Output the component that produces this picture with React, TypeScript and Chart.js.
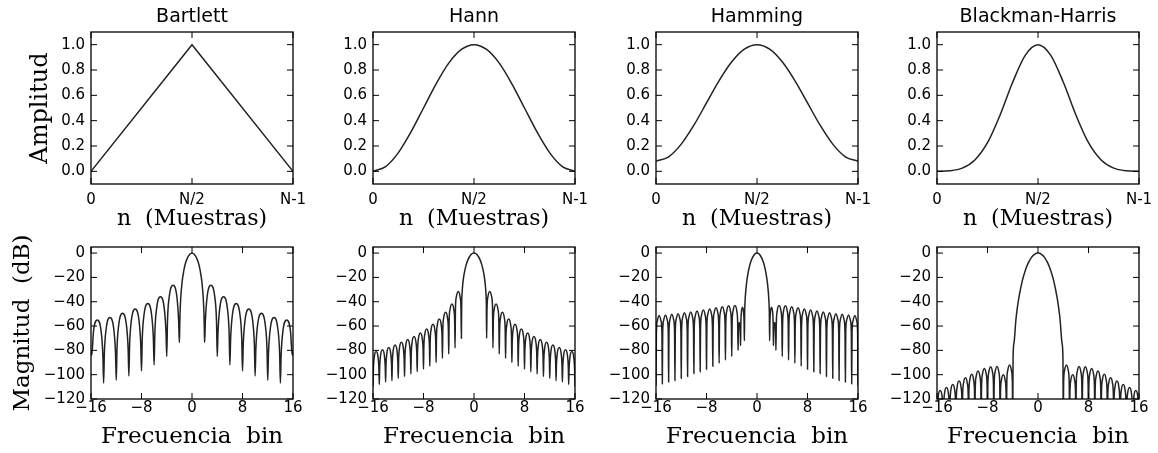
import React, { useEffect, useRef } from 'react';
import { Chart, registerables } from 'chart.js';

Chart.register(...registerables);

// ---------------- data ----------------
const WINDOW_TITLES = ['Bartlett', 'Hann', 'Hamming', 'Blackman-Harris'];

// top row: window shapes, sample index 0 … N-1 (N = 65)
const BARTLETT_N = [0, 32, 64];
const BARTLETT_AMP = [0, 1, 0];
const WINDOW_N = [0, 4, 8, 12, 16, 20, 24, 28, 32, 36, 40, 44, 48, 52, 56, 60, 64];
const HANN_AMP = [0, 0.038, 0.146, 0.309, 0.5, 0.691, 0.854, 0.962, 1, 0.962, 0.854, 0.691, 0.5, 0.309, 0.146, 0.038, 0];
const HAMMING_AMP = [0.08, 0.115, 0.215, 0.364, 0.54, 0.716, 0.865, 0.965, 1, 0.965, 0.865, 0.716, 0.54, 0.364, 0.215, 0.115, 0.08];
const BLACKMAN_HARRIS_AMP = [0, 0.004, 0.025, 0.09, 0.226, 0.445, 0.705, 0.918, 1, 0.918, 0.705, 0.445, 0.226, 0.09, 0.025, 0.004, 0];

const TOP_X_TICKS = [0, 32, 64];
const TOP_X_TICK_LABELS = ['0', 'N/2', 'N-1'];
const TOP_Y_TICKS = [0, 0.2, 0.4, 0.6, 0.8, 1.0];
const BOTTOM_X_TICKS = [-16, -8, 0, 8, 16];
const BOTTOM_Y_TICKS = [-120, -100, -80, -60, -40, -20, 0];

// bottom row: spectra in dB (left half, the right half is its mirror image)
// side-lobe nulls (bin), depth at each null (dB), peak of the lobe that starts at that null (dB)
const BARTLETT_NULL_BINS = [-16, -14, -12, -10, -8, -6, -4];
const BARTLETT_NULL_DB = [-80, -107, -104.5, -101, -97, -92, -85];
const BARTLETT_LOBE_DB = [-55, -53, -49.5, -46, -41.5, -36, -26.5];
const BARTLETT_MAIN_BINS = [-2, -1.95, -1.9, -1.8, -1.6, -1.3, -1, -0.6, 0];
const BARTLETT_MAIN_DB = [-73.5, -62, -51, -38.4, -25.2, -14.4, -7.8, -2.7, 0];

const HANN_NULL_BINS = [-16, -15, -14, -13, -12, -11, -10, -9, -8, -7, -6, -5, -4, -3];
const HANN_NULL_DB = [-110, -108, -106, -105, -103, -101.5, -99.5, -97.5, -95.5, -93, -90, -86.5, -83, -78];
const HANN_LOBE_DB = [-81, -79.4, -77.6, -75.6, -73.4, -71, -68.5, -65.7, -62.4, -58.6, -54.3, -48.6, -41.8, -31.5];
const HANN_MAIN_BINS = [-2, -1.95, -1.9, -1.8, -1.65, -1.5, -1.25, -1, -0.5, 0];
const HANN_MAIN_DB = [-70, -40.8, -34, -26.7, -20, -15.4, -9.9, -6, -1.4, 0];

const HAMMING_NULL_BINS = [-16, -15, -14, -13, -12, -11, -10, -9, -8, -7, -6, -5, -4, -3, -2.6];
const HAMMING_NULL_DB = [-109, -107.5, -106, -104.7, -103, -101.5, -99, -97.6, -95.5, -93, -90.5, -88, -85, -80, -76];
const HAMMING_LOBE_DB = [-51.3, -50.9, -50.4, -49.8, -49.1, -48.4, -47.6, -46.8, -45.9, -45, -44.2, -43.4, -43.2, -57, -44.5];
const HAMMING_MAIN_BINS = [-2, -1.95, -1.9, -1.8, -1.65, -1.5, -1.25, -1, -0.5, 0];
const HAMMING_MAIN_DB = [-72, -48, -40.7, -32.3, -24.5, -18.9, -12.2, -7.4, -1.75, 0];

const BH_NULL_BINS = [-16, -15, -14, -13, -12, -11, -10, -9, -8, -7, -6, -5];
const BH_NULL_DB = [-140, -140, -140, -140, -140, -140, -140, -140, -140, -140, -140, -140];
const BH_LOBE_DB = [-113, -110.5, -108, -105.3, -102.5, -99.7, -97, -95, -93.5, -93.3, -100, -92];
const BH_MAIN_BINS = [-4, -3.95, -3.8, -3.5, -3.2, -3, -2.5, -2, -1.5, -1, -0.5, 0];
const BH_MAIN_DB = [-140, -86, -73.8, -54.8, -42.3, -35.8, -23.1, -14.1, -7.7, -3.3, -0.8, 0];

// shape of one side lobe: fraction of lobe width -> dB below its peak
const LOBE_SHAPE_POS = [0.06, 0.2];
const SINC_LOBE_SHAPE_DB = [-14.5, -4.6];
const SINC2_LOBE_SHAPE_DB = [-29, -9.2];

// ---------------- layout / style ----------------
const PLOT_LEFT = [91, 373, 656, 937];
const PLOT_W = 202;
const ROW_TOP = [32, 247];
const PLOT_H = 152;
const AXIS_W = 90;
const TITLE_H = 32;
const RIGHT_PAD = 19;
const X_AXIS_H = [50, 54];
const LINE_COLOR = '#222';
const TICK_LEN = 6;
const SANS = 'DejaVu Sans';
const SERIF = 'DejaVu Serif';

type Pt = { x: number; y: number };

function zipPoints(xs: number[], ys: number[]): Pt[] {
  return xs.map((x, i) => ({ x, y: ys[i] }));
}

function buildSpectrum(nullBins: number[], nullDb: number[], lobeDb: number[], mainBins: number[], mainDb: number[], shapeDb: number[]): Pt[] {
  const half: Pt[] = [];
  for (let i = 0; i < nullBins.length; i++) {
    const a = nullBins[i];
    const b = i + 1 < nullBins.length ? nullBins[i + 1] : mainBins[0];
    const w = b - a;
    half.push({ x: a, y: nullDb[i] });
    LOBE_SHAPE_POS.forEach((f, k) => half.push({ x: a + f * w, y: lobeDb[i] + shapeDb[k] }));
    half.push({ x: a + 0.5 * w, y: lobeDb[i] });
    for (let k = LOBE_SHAPE_POS.length - 1; k >= 0; k--) {
      half.push({ x: b - LOBE_SHAPE_POS[k] * w, y: lobeDb[i] + shapeDb[k] });
    }
  }
  mainBins.forEach((x, j) => half.push({ x, y: mainDb[j] }));
  const full = [...half];
  for (let j = half.length - 2; j >= 0; j--) full.push({ x: -half[j].x, y: half[j].y });
  return full;
}

const TOP_SERIES: Pt[][] = [
  zipPoints(BARTLETT_N, BARTLETT_AMP),
  zipPoints(WINDOW_N, HANN_AMP),
  zipPoints(WINDOW_N, HAMMING_AMP),
  zipPoints(WINDOW_N, BLACKMAN_HARRIS_AMP),
];

const BOTTOM_SERIES: Pt[][] = [
  buildSpectrum(BARTLETT_NULL_BINS, BARTLETT_NULL_DB, BARTLETT_LOBE_DB, BARTLETT_MAIN_BINS, BARTLETT_MAIN_DB, SINC2_LOBE_SHAPE_DB),
  buildSpectrum(HANN_NULL_BINS, HANN_NULL_DB, HANN_LOBE_DB, HANN_MAIN_BINS, HANN_MAIN_DB, SINC_LOBE_SHAPE_DB),
  buildSpectrum(HAMMING_NULL_BINS, HAMMING_NULL_DB, HAMMING_LOBE_DB, HAMMING_MAIN_BINS, HAMMING_MAIN_DB, SINC_LOBE_SHAPE_DB),
  buildSpectrum(BH_NULL_BINS, BH_NULL_DB, BH_LOBE_DB, BH_MAIN_BINS, BH_MAIN_DB, SINC_LOBE_SHAPE_DB),
];

const minusLabel = (v: number) => (v < 0 ? '\u2212' + Math.abs(v) : String(v));

type Panel = {
  row: number;
  col: number;
  points: Pt[];
  smooth: boolean;
};

const PANELS: Panel[] = [];
for (let r = 0; r < 2; r++) {
  for (let c = 0; c < 4; c++) {
    PANELS.push({
      row: r,
      col: c,
      points: r === 0 ? TOP_SERIES[c] : BOTTOM_SERIES[c],
      smooth: !(r === 0 && c === 0),
    });
  }
}

const framePlugin = {
  id: 'mplFrame',
  afterDraw(chart: any) {
    const { ctx, chartArea } = chart;
    const { left, right, top, bottom } = chartArea;
    const xs = chart.scales.x;
    const ys = chart.scales.y;
    ctx.save();
    ctx.strokeStyle = '#000';
    ctx.lineWidth = 1;
    ctx.beginPath();
    for (const t of xs.ticks) {
      const px = xs.getPixelForValue(t.value);
      ctx.moveTo(px, bottom);
      ctx.lineTo(px, bottom - TICK_LEN);
      ctx.moveTo(px, top);
      ctx.lineTo(px, top + TICK_LEN);
    }
    for (const t of ys.ticks) {
      const py = ys.getPixelForValue(t.value);
      ctx.moveTo(left, py);
      ctx.lineTo(left + TICK_LEN, py);
      ctx.moveTo(right, py);
      ctx.lineTo(right - TICK_LEN, py);
    }
    ctx.stroke();
    ctx.lineWidth = 1.3;
    ctx.strokeRect(left, top, right - left, bottom - top);
    ctx.restore();
  },
};

function buildConfig(p: Panel): any {
  const top = p.row === 0;
  const xTicks = top ? TOP_X_TICKS : BOTTOM_X_TICKS;
  const yTicks = top ? TOP_Y_TICKS : BOTTOM_Y_TICKS;
  return {
    type: 'line',
    data: {
      datasets: [
        {
          data: p.points,
          borderColor: LINE_COLOR,
          borderWidth: 1.5,
          pointRadius: 0,
          fill: false,
          tension: 0,
          cubicInterpolationMode: p.smooth ? 'monotone' : 'default',
        },
      ],
    },
    options: {
      responsive: false,
      maintainAspectRatio: false,
      animation: false,
      events: [],
      layout: { padding: { left: 0, right: RIGHT_PAD, top: top ? 0 : TITLE_H, bottom: 0 } },
      plugins: {
        legend: { display: false },
        tooltip: { enabled: false },
        title: top
          ? {
              display: true,
              text: WINDOW_TITLES[p.col],
              fullSize: false,
              color: '#000',
              font: { family: SANS, size: 19, weight: 'normal', lineHeight: 1.2 },
              padding: { top: 6, bottom: TITLE_H - 6 - 22.8 },
            }
          : { display: false },
      },
      scales: {
        x: {
          type: 'linear',
          min: top ? 0 : -16,
          max: top ? 64 : 16,
          grid: { display: false, drawTicks: false },
          border: { display: false },
          ticks: {
            autoSkip: false,
            maxRotation: 0,
            minRotation: 0,
            padding: top ? 7 : 0,
            color: '#000',
            font: { family: SANS, size: 15, lineHeight: 1.2 },
            callback: (v: number) => (top ? TOP_X_TICK_LABELS[TOP_X_TICKS.indexOf(v)] : minusLabel(v)),
          },
          afterBuildTicks: (s: any) => {
            s.ticks = xTicks.map((v) => ({ value: v }));
          },
          afterFit: (s: any) => {
            s.height = X_AXIS_H[p.row];
            s.paddingLeft = 0;
            s.paddingRight = 0;
          },
          title: {
            display: true,
            text: top ? 'n  (Muestras)' : 'Frecuencia  bin',
            color: '#000',
            font: { family: SERIF, size: top ? 22 : 23, lineHeight: 1.2 },
            padding: { top: 0, bottom: top ? 1.5 : 2.2 },
          },
        },
        y: {
          type: 'linear',
          min: top ? -0.1 : -120,
          max: top ? 1.1 : 5,
          grid: { display: false, drawTicks: false },
          border: { display: false },
          ticks: {
            autoSkip: false,
            padding: 6,
            color: '#000',
            font: { family: SANS, size: 15, lineHeight: 1.2 },
            callback: (v: number) => (top ? v.toFixed(1) : minusLabel(v)),
          },
          afterBuildTicks: (s: any) => {
            s.ticks = yTicks.map((v) => ({ value: v }));
          },
          afterFit: (s: any) => {
            s.width = AXIS_W;
            s.paddingTop = 0;
            s.paddingBottom = 0;
          },
          title: {
            display: p.col === 0,
            text: top ? 'Amplitud' : 'Magnitud  (dB)',
            color: '#000',
            font: { family: SERIF, size: top ? 24 : 23, lineHeight: 1.2 },
            padding: { top: top ? 25.6 : 8, bottom: 0 },
          },
        },
      },
    },
    plugins: [framePlugin],
  };
}

function canvasBox(p: Panel) {
  return {
    left: PLOT_LEFT[p.col] - AXIS_W,
    top: ROW_TOP[p.row] - TITLE_H,
    width: AXIS_W + PLOT_W + RIGHT_PAD,
    height: TITLE_H + PLOT_H + X_AXIS_H[p.row],
  };
}

export default function App() {
  const refs = useRef<(HTMLCanvasElement | null)[]>([]);

  useEffect(() => {
    const charts = PANELS.map((p, i) => new Chart(refs.current[i] as HTMLCanvasElement, buildConfig(p)));
    return () => charts.forEach((c) => c.destroy());
  }, []);

  return (
    <div
      style={{
        position: 'fixed',
        left: 0,
        top: 0,
        width: 1158,
        height: 453,
        background: '#fff',
        overflow: 'hidden',
      }}
    >
      {PANELS.map((p, i) => {
        const b = canvasBox(p);
        return (
          <canvas
            key={i}
            ref={(el) => {
              refs.current[i] = el;
            }}
            width={b.width}
            height={b.height}
            style={{ position: 'absolute', left: b.left, top: b.top, width: b.width, height: b.height }}
          />
        );
      })}
    </div>
  );
}
